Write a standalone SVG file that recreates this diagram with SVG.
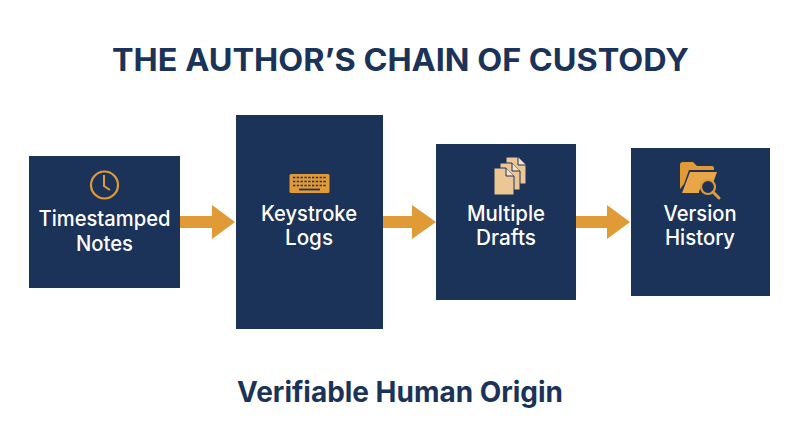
<svg xmlns="http://www.w3.org/2000/svg" width="800" height="447" viewBox="0 0 800 447">
<style>
.box{fill:#1b3358}
.t{font-family:Inter,"Noto Sans","Liberation Sans",sans-serif;text-anchor:middle}
.n{fill:#fff;font-size:21px;font-weight:500}
.h{fill:#1b3358;font-weight:700}
.a{fill:#e09a36}
.l{fill:none;stroke:#e09a36}
.p{fill:#ecc795;stroke:#1b3358;stroke-width:1}
</style>
<rect width="800" height="447" fill="#fff"/>
<text class="t h" x="400.500" y="71" font-size="31" textLength="577" lengthAdjust="spacingAndGlyphs">THE AUTHOR’S CHAIN OF CUSTODY</text>
<g id="connectors">
<polygon class="a" points="180,216 212,216 212,205 235,222 212,239 212,228 180,228" id="c1"/>
<polygon class="a" points="383,216 412,216 412,205 436,222 412,239 412,228 383,228" id="c2"/>
<polygon class="a" points="576,216 607,216 607,205 630,222 607,239 607,228 576,228" id="c3"/>
</g>
<g id="node-notes">
<rect class="box" x="29" y="156" width="151" height="132"/>
<circle class="l" cx="104.500" cy="185" r="13.500" stroke-width="2.200"/>
<path class="l" d="M104 175V186L110 190" stroke-width="2"/>
<text class="t n" x="104.500" y="226" textLength="132" lengthAdjust="spacingAndGlyphs">Timestamped</text>
<text class="t n" x="104.500" y="251" textLength="57" lengthAdjust="spacingAndGlyphs">Notes</text>
</g>
<g id="node-keystroke">
<rect class="box" x="236" y="115" width="147" height="214"/>
<rect x="289.500" y="174" width="40" height="19" rx="1.500" fill="#e09a36"/>
<path d="M293 177.500H326M293 181.500H326M293 185.500H326" stroke="#1b3358" stroke-width="1.700" stroke-dasharray="2.300 1.500" fill="none"/>
<path d="M299 189.500H320" stroke="#1b3358" stroke-width="1.700" fill="none"/>
<text class="t n" x="309" y="221" textLength="96" lengthAdjust="spacingAndGlyphs">Keystroke</text>
<text class="t n" x="309" y="245" textLength="48" lengthAdjust="spacingAndGlyphs">Logs</text>
</g>
<g id="node-drafts">
<rect class="box" x="436" y="144" width="140" height="156"/>
<path class="p" d="M506 157H518L526 165V184H506Z"/>
<path class="p" d="M500 163H512L520 171V190H500Z"/>
<path class="p" d="M494 168H506L514 176V195H494Z"/>
<path d="M506 168V176H514" fill="#f6e1c4" stroke="#1b3358"/>
<path d="M512 163V171H520" fill="#f6e1c4" stroke="#1b3358"/>
<path d="M518 157V165H526" fill="#f6e1c4" stroke="#1b3358"/>
<text class="t n" x="506" y="221" textLength="78" lengthAdjust="spacingAndGlyphs">Multiple</text>
<text class="t n" x="506" y="245" textLength="60" lengthAdjust="spacingAndGlyphs">Drafts</text>
</g>
<g id="node-history">
<rect class="box" x="631" y="148" width="139" height="148"/>
<path d="M680 165Q680 162 683 162H693L697 166H712Q714 166 714 168V170H689L684 184L680 189Z" fill="#e09a36"/>
<path d="M690 172H717L713 183A11 11 0 0 0 699 193H682Z" fill="#e9a648"/>
<circle cx="708" cy="187" r="7" fill="#1b3358" stroke="#e09a36" stroke-width="2.200"/>
<path d="M713 192L719 198" stroke="#e09a36" stroke-width="3" stroke-linecap="round"/>
<text class="t n" x="700" y="221" textLength="73" lengthAdjust="spacingAndGlyphs">Version</text>
<text class="t n" x="700" y="245" textLength="70" lengthAdjust="spacingAndGlyphs">History</text>
</g>
<text class="t h" x="400" y="402" font-size="28" textLength="326" lengthAdjust="spacingAndGlyphs">Verifiable Human Origin</text>
</svg>
